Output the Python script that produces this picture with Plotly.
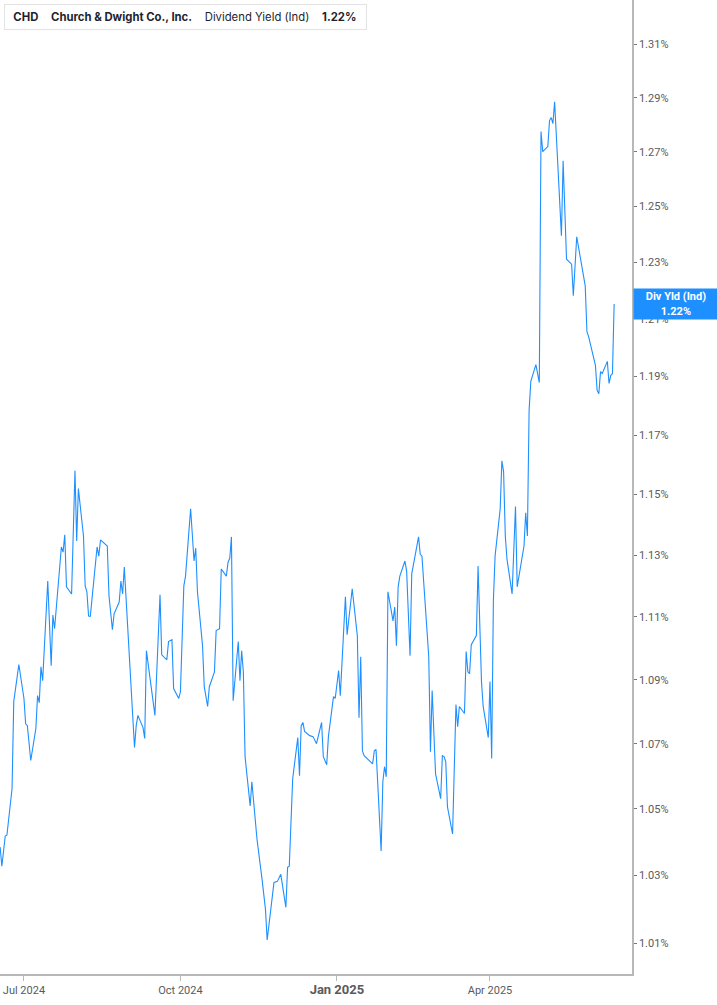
import numpy as np
import plotly.graph_objects as go

# CHD dividend yield (indicated), %
dates = [
    "2024-06-17", "2024-06-18", "2024-06-20", "2024-06-21", "2024-06-24", "2024-06-25",
    "2024-06-28", "2024-07-01", "2024-07-02", "2024-07-03", "2024-07-05", "2024-07-08",
    "2024-07-09", "2024-07-10", "2024-07-11", "2024-07-12", "2024-07-15", "2024-07-17",
    "2024-07-18", "2024-07-19", "2024-07-23", "2024-07-24", "2024-07-25", "2024-07-26",
    "2024-07-29", "2024-07-31", "2024-08-01", "2024-08-02", "2024-08-05", "2024-08-06",
    "2024-08-07", "2024-08-08", "2024-08-09", "2024-08-13", "2024-08-14", "2024-08-15",
    "2024-08-19", "2024-08-20", "2024-08-22", "2024-08-23", "2024-08-26", "2024-08-27",
    "2024-08-28", "2024-08-29", "2024-09-04", "2024-09-05", "2024-09-06", "2024-09-09",
    "2024-09-10", "2024-09-11", "2024-09-16", "2024-09-19", "2024-09-20", "2024-09-23",
    "2024-09-24", "2024-09-26", "2024-09-27", "2024-09-30", "2024-10-01", "2024-10-03",
    "2024-10-04", "2024-10-07", "2024-10-09", "2024-10-10", "2024-10-11", "2024-10-14",
    "2024-10-15", "2024-10-17", "2024-10-18", "2024-10-21", "2024-10-22", "2024-10-24",
    "2024-10-25", "2024-10-28", "2024-10-29", "2024-10-30", "2024-10-31", "2024-11-01",
    "2024-11-04", "2024-11-05", "2024-11-06", "2024-11-07", "2024-11-08", "2024-11-11",
    "2024-11-12", "2024-11-15", "2024-11-18", "2024-11-20", "2024-11-21", "2024-11-25",
    "2024-11-27", "2024-11-29", "2024-12-02", "2024-12-03", "2024-12-04", "2024-12-06",
    "2024-12-09", "2024-12-10", "2024-12-11", "2024-12-12", "2024-12-13", "2024-12-16",
    "2024-12-18", "2024-12-20", "2024-12-23", "2024-12-24", "2024-12-26", "2024-12-27",
    "2024-12-30", "2024-12-31", "2025-01-02", "2025-01-03", "2025-01-06", "2025-01-07",
    "2025-01-10", "2025-01-13", "2025-01-14", "2025-01-15", "2025-01-16", "2025-01-17",
    "2025-01-22", "2025-01-23", "2025-01-24", "2025-01-27", "2025-01-28", "2025-01-29",
    "2025-01-30", "2025-01-31", "2025-02-03", "2025-02-04", "2025-02-05", "2025-02-06",
    "2025-02-07", "2025-02-10", "2025-02-11", "2025-02-13", "2025-02-14", "2025-02-18",
    "2025-02-19", "2025-02-20", "2025-02-24", "2025-02-25", "2025-02-26", "2025-02-28",
    "2025-03-03", "2025-03-04", "2025-03-05", "2025-03-06", "2025-03-07", "2025-03-10",
    "2025-03-12", "2025-03-13", "2025-03-14", "2025-03-17", "2025-03-18", "2025-03-19",
    "2025-03-20", "2025-03-21", "2025-03-24", "2025-03-25", "2025-03-27", "2025-03-28",
    "2025-03-31", "2025-04-01", "2025-04-02", "2025-04-03", "2025-04-04", "2025-04-07",
    "2025-04-08", "2025-04-09", "2025-04-10", "2025-04-11", "2025-04-14", "2025-04-16",
    "2025-04-17", "2025-04-21", "2025-04-22", "2025-04-23", "2025-04-24", "2025-04-25",
    "2025-04-28", "2025-04-30", "2025-05-01", "2025-05-02", "2025-05-05", "2025-05-06",
    "2025-05-07", "2025-05-08", "2025-05-09", "2025-05-12", "2025-05-13", "2025-05-14",
    "2025-05-16", "2025-05-19", "2025-05-20", "2025-05-22", "2025-05-27", "2025-05-28",
    "2025-05-29", "2025-06-02", "2025-06-03", "2025-06-04", "2025-06-05", "2025-06-06",
    "2025-06-09", "2025-06-10", "2025-06-11", "2025-06-12", "2025-06-13",
]
div_yield = [
    1.0385, 1.0327, 1.0418, 1.0421, 1.0562, 1.0831,
    1.0948, 1.0841, 1.0762, 1.0756, 1.0648, 1.0747,
    1.0850, 1.0828, 1.0941, 1.0897, 1.1216, 1.0944,
    1.1106, 1.1062, 1.1327, 1.1310, 1.1367, 1.1197,
    1.1174, 1.1580, 1.1347, 1.1520, 1.1363, 1.1200,
    1.1181, 1.1103, 1.1102, 1.1327, 1.1297, 1.1350,
    1.1330, 1.1168, 1.1059, 1.1110, 1.1148, 1.1216,
    1.1174, 1.1261, 1.0688, 1.0756, 1.0788, 1.0750,
    1.0716, 1.0992, 1.0788, 1.1171, 1.0979, 1.0963,
    1.1021, 1.1027, 1.0872, 1.0841, 1.0862, 1.1200,
    1.1232, 1.1453, 1.1281, 1.1323, 1.1181, 1.1008,
    1.0878, 1.0816, 1.0878, 1.0925, 1.1056, 1.1062,
    1.1255, 1.1232, 1.1277, 1.1290, 1.1360, 1.0834,
    1.1021, 1.0897, 1.0992, 1.0925, 1.0660, 1.0509,
    1.0583, 1.0409, 1.0288, 1.0199, 1.0109, 1.0279,
    1.0282, 1.0303, 1.0205, 1.0324, 1.0327, 1.0592,
    1.0719, 1.0601, 1.0756, 1.0766, 1.0738, 1.0725,
    1.0722, 1.0700, 1.0766, 1.0660, 1.0635, 1.0722,
    1.0847, 1.0841, 1.0929, 1.0850, 1.1165, 1.1043,
    1.1191, 1.1040, 1.0781, 1.0973, 1.0678, 1.0663,
    1.0638, 1.0678, 1.0682, 1.0373, 1.0583, 1.0629,
    1.0598, 1.1181, 1.1087, 1.1132, 1.1008, 1.1197,
    1.1232, 1.1281, 1.1248, 1.0976, 1.1239, 1.1360,
    1.1303, 1.1297, 1.0973, 1.0675, 1.0866, 1.0607,
    1.0531, 1.0663, 1.0660, 1.0645, 1.0506, 1.0424,
    1.0822, 1.0753, 1.0816, 1.0794, 1.0989, 1.0925,
    1.0919, 1.1011, 1.1040, 1.1265, 1.0894, 1.0816,
    1.0719, 1.0894, 1.0654, 1.1152, 1.1297, 1.1453,
    1.1613, 1.1577, 1.1363, 1.1287, 1.1174, 1.1460,
    1.1197, 1.1330, 1.1440, 1.1363, 1.1783, 1.1883,
    1.1941, 1.1879, 1.2774, 1.2700, 1.2719, 1.2815,
    1.2826, 1.2804, 1.2885, 1.2529, 1.2395, 1.2667,
    1.2311, 1.2293, 1.2181, 1.2391, 1.2216, 1.2055,
    1.2038, 1.1938, 1.1852, 1.1841, 1.1917, 1.1910,
    1.1952, 1.1876, 1.1903, 1.1910, 1.2152,
]

y_ticks = [1.01, 1.03, 1.05, 1.07, 1.09, 1.11, 1.13, 1.15, 1.17, 1.19, 1.21, 1.23, 1.25, 1.27, 1.29, 1.31]
x_ticks = ["2024-07-01", "2024-10-01", "2025-01-01", "2025-04-01"]
x_ticklabels = ["Jul 2024", "Oct 2024", "<b><span style='font-size:13px'>Jan 2025</span></b>", "Apr 2025"]

BLUE = "#1E8FFF"
last = div_yield[-1]
last_txt = f"{round(last, 2):.2f}%"

fig = go.Figure()
fig.add_trace(go.Scatter(
    x=dates, y=div_yield, mode="lines",
    line=dict(color=BLUE, width=1.1),
    hoverinfo="x+y", showlegend=False,
))

fig.update_layout(
    width=717, height=1005,
    margin=dict(l=0, r=85, t=0, b=31),
    paper_bgcolor="white", plot_bgcolor="white",
    font=dict(family="Roboto", size=11, color="#5a5a5a"),
    showlegend=False,
    xaxis=dict(
        range=["2024-06-16 22:00", "2025-06-23 12:00"],
        tickvals=x_ticks, ticktext=x_ticklabels,
        showgrid=False, zeroline=False,
        showline=True, linecolor="#b8b8b8", linewidth=2,
        ticks="outside", ticklen=5, tickcolor="#b8b8b8", tickwidth=1,
        tickfont=dict(family="Roboto", size=11, color="#5a5a5a"),
    ),
    yaxis=dict(
        type="log", side="right",
        range=[np.log10(1.001), np.log10(1.327)],
        tickvals=y_ticks, ticktext=[f"{v:.2f}%" for v in y_ticks],
        showgrid=False, zeroline=False,
        showline=True, linecolor="#b8b8b8", linewidth=1.5,
        ticks="outside", ticklen=3, tickcolor="#777", tickwidth=1,
        tickfont=dict(family="Roboto", size=11, color="#5a5a5a"),
    ),
)

# last value tag on the axis
fig.add_annotation(
    xref="paper", yref="y", x=1, y=np.log10(last),
    xanchor="left", yanchor="middle", xshift=1,
    text=f"<b>Div Yld (Ind)<br>{last_txt}</b>",
    showarrow=False, align="center",
    font=dict(family="Roboto", size=11, color="white"),
    bgcolor=BLUE, width=80, height=26, borderpad=2,
)

# header box
fig.add_annotation(
    xref="paper", yref="paper", x=0, y=1,
    xanchor="left", yanchor="top", xshift=4, yshift=-4,
    text=("&nbsp;&nbsp;<b>CHD</b>&nbsp;&nbsp;&nbsp;&nbsp;<b>Church &amp; Dwight Co., Inc.</b>"
          f"&nbsp;&nbsp;&nbsp;&nbsp;Dividend Yield (Ind)&nbsp;&nbsp;&nbsp;&nbsp;<b>{last_txt}</b>"),
    showarrow=False, align="left",
    font=dict(family="Inter", size=11.3, color="#1f1f2e"),
    bgcolor="white", bordercolor="#e3e3e3", borderwidth=1,
    width=357, height=20, borderpad=2,
)
fig.add_shape(
    type="rect", xref="paper", yref="paper",
    xsizemode="pixel", ysizemode="pixel", xanchor=0, yanchor=1,
    x0=4, x1=7, y0=-4, y1=-30,
    fillcolor=BLUE, line=dict(width=0),
)

fig.write_html("out.html", config={"displayModeBar": False},
               post_script="document.body.style.margin='0';")
